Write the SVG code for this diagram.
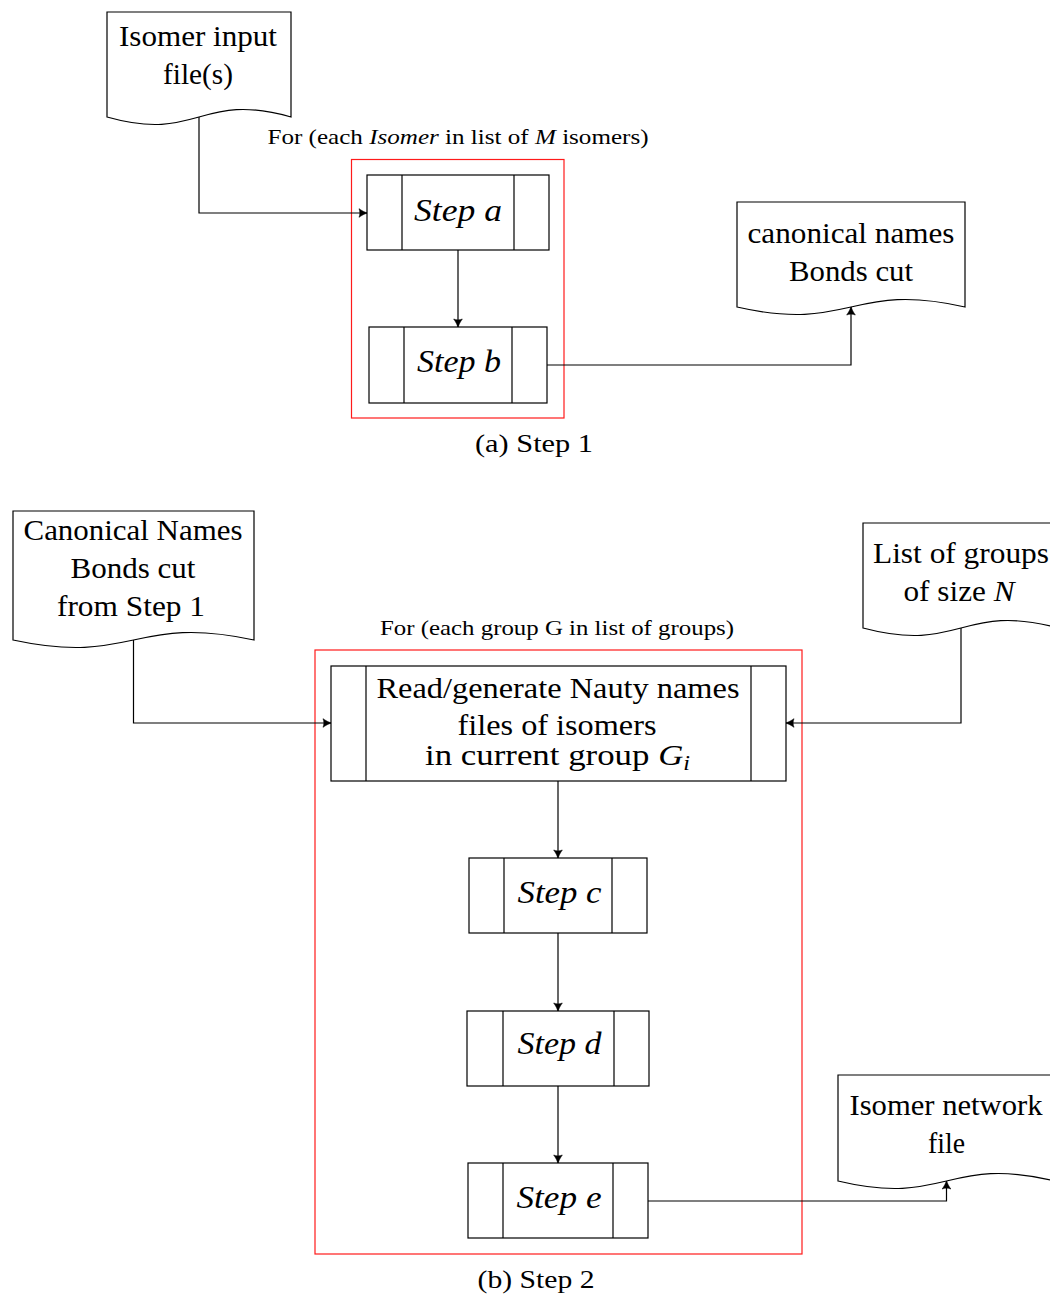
<svg xmlns="http://www.w3.org/2000/svg" width="1050" height="1298" viewBox="0 0 1050 1298">
  <style>
    .ln { fill: none; stroke: #000; stroke-width: 1.2; }
    .box { fill: #fff; stroke: #000; stroke-width: 1.2; }
    .loop { fill: none; stroke: #ff1a1a; stroke-width: 1.2; }
    .t { font-family: "Liberation Serif", "Times New Roman", serif; font-size: 29px; text-anchor: middle; fill: #000; }
    .step { font-style: italic; font-size: 32px; }
    .cap { font-size: 26px; }
    .small { font-size: 22px; }
    .it { font-style: italic; }
  </style>
  <defs>
    <marker id="arrow" markerUnits="userSpaceOnUse" markerWidth="12" markerHeight="12" viewBox="-10 -6 12 12" refX="0" refY="0" orient="auto">
      <path d="M0.5,0 C-2.5,-0.8 -5.5,-2.5 -8,-4.3 C-6.8,-1.8 -6.8,1.8 -8,4.3 C-5.5,2.5 -2.5,0.8 0.5,0 Z" fill="#000" stroke="#000" stroke-width="0.6" stroke-linejoin="round"/>
    </marker>
  </defs>
  <rect width="1050" height="1298" fill="#fff"/>

  <!-- Step 1 loop frame and captions -->
  <rect class="loop" x="351.5" y="159.5" width="212.5" height="258.5"/>
  <text class="t small" x="458" y="144" textLength="381" lengthAdjust="spacingAndGlyphs">For (each <tspan class="it">Isomer</tspan> in list of <tspan class="it">M</tspan> isomers)</text>
  <text class="t cap" x="534" y="452" textLength="118" lengthAdjust="spacingAndGlyphs">(a) Step 1</text>

  <!-- Step 2 loop frame and captions -->
  <rect class="loop" x="315" y="650" width="487" height="604"/>
  <text class="t small" x="557" y="635" textLength="354" lengthAdjust="spacingAndGlyphs">For (each group G in list of groups)</text>
  <text class="t cap" x="536" y="1288" textLength="117" lengthAdjust="spacingAndGlyphs">(b) Step 2</text>

  <!-- connectors -->
  <g id="connectors" marker-end="url(#arrow)">
    <path class="ln" d="M199,117 V213 H367"/>
    <path class="ln" d="M458,250 V327"/>
    <path class="ln" d="M547,365 H851 V307"/>
    <path class="ln" d="M133.5,640 V723 H331"/>
    <path class="ln" d="M961,628 V723 H786"/>
    <path class="ln" d="M558,781 V858"/>
    <path class="ln" d="M558,933 V1011"/>
    <path class="ln" d="M558,1086 V1163"/>
    <path class="ln" d="M648,1201 H946.5 V1181"/>
  </g>

  <!-- documents -->
  <g id="doc-isomer-input">
    <path class="box" d="M107,12 H291 V117 C199,91 199,143 107,117 Z"/>
    <text class="t" x="198" y="46" textLength="158" lengthAdjust="spacingAndGlyphs">Isomer input</text>
    <text class="t" x="198" y="84" textLength="70" lengthAdjust="spacingAndGlyphs">file(s)</text>
  </g>
  <g id="doc-canonical-names">
    <path class="box" d="M737,202 H965 V307 C851,281 851,333 737,307 Z"/>
    <text class="t" x="851" y="243" textLength="207" lengthAdjust="spacingAndGlyphs">canonical names</text>
    <text class="t" x="851" y="281" textLength="124" lengthAdjust="spacingAndGlyphs">Bonds cut</text>
  </g>
  <g id="doc-step1-output">
    <path class="box" d="M13,511 H254 V640 C133.5,614 133.5,666 13,640 Z"/>
    <text class="t" x="133" y="540" textLength="219" lengthAdjust="spacingAndGlyphs">Canonical Names</text>
    <text class="t" x="133" y="578" textLength="125" lengthAdjust="spacingAndGlyphs">Bonds cut</text>
    <text class="t" x="131" y="616" textLength="148" lengthAdjust="spacingAndGlyphs">from Step 1</text>
  </g>
  <g id="doc-groups">
    <path class="box" d="M863,523 H1059 V628 C961,602 961,654 863,628 Z"/>
    <text class="t" x="961" y="563" textLength="176" lengthAdjust="spacingAndGlyphs">List of groups</text>
    <text class="t" x="959" y="601" textLength="111" lengthAdjust="spacingAndGlyphs">of size <tspan class="it">N</tspan></text>
  </g>
  <g id="doc-network">
    <path class="box" d="M838,1075 H1055 V1181 C946.5,1155 946.5,1207 838,1181 Z"/>
    <text class="t" x="946" y="1115" textLength="193" lengthAdjust="spacingAndGlyphs">Isomer network</text>
    <text class="t" x="946.5" y="1153" textLength="37" lengthAdjust="spacingAndGlyphs">file</text>
  </g>

  <!-- predefined-process steps -->
  <g id="step-a">
    <rect class="box" x="367" y="175" width="182" height="75"/>
    <path class="ln" d="M402,175 V250 M514,175 V250"/>
    <text class="t step" x="458" y="221" textLength="88" lengthAdjust="spacingAndGlyphs">Step a</text>
  </g>
  <g id="step-b">
    <rect class="box" x="369" y="327" width="178" height="76"/>
    <path class="ln" d="M404,327 V403 M512,327 V403"/>
    <text class="t step" x="459" y="372" textLength="84" lengthAdjust="spacingAndGlyphs">Step b</text>
  </g>
  <g id="step-read">
    <rect class="box" x="331" y="666" width="455" height="115"/>
    <path class="ln" d="M366,666 V781 M751,666 V781"/>
    <text class="t" x="558" y="698" textLength="363" lengthAdjust="spacingAndGlyphs">Read/generate Nauty names</text>
    <text class="t" x="557" y="735" textLength="199" lengthAdjust="spacingAndGlyphs">files of isomers</text>
    <text class="t" x="557.5" y="765" textLength="265" lengthAdjust="spacingAndGlyphs">in current group <tspan class="it">G</tspan><tspan class="it" font-size="20" dy="5">i</tspan></text>
  </g>
  <g id="step-c">
    <rect class="box" x="469" y="858" width="178" height="75"/>
    <path class="ln" d="M504,858 V933 M612,858 V933"/>
    <text class="t step" x="559.5" y="903" textLength="84" lengthAdjust="spacingAndGlyphs">Step c</text>
  </g>
  <g id="step-d">
    <rect class="box" x="467" y="1011" width="182" height="75"/>
    <path class="ln" d="M503,1011 V1086 M614,1011 V1086"/>
    <text class="t step" x="559.5" y="1054" textLength="84" lengthAdjust="spacingAndGlyphs">Step d</text>
  </g>
  <g id="step-e">
    <rect class="box" x="468" y="1163" width="180" height="75"/>
    <path class="ln" d="M503,1163 V1238 M613,1163 V1238"/>
    <text class="t step" x="559" y="1208" textLength="85" lengthAdjust="spacingAndGlyphs">Step e</text>
  </g>
</svg>
